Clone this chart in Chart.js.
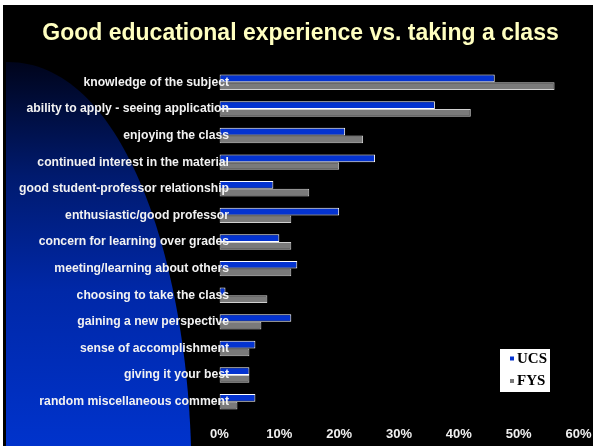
<!DOCTYPE html>
<html>
<head>
<meta charset="utf-8">
<title>Good educational experience vs. taking a class</title>
<script src="https://cdn.jsdelivr.net/npm/chart.js@4.4.1/dist/chart.umd.min.js"></script>
<style>
    html, body { margin: 0; padding: 0; background: #fff; overflow: hidden; }
    canvas { display: block; }
</style>
</head>
<body>
<canvas id="experienceChart" width="593" height="446"></canvas>
<script>
// Survey answers, percent of responses per group
let categories = [
    'knowledge of the subject',
    'ability to apply - seeing application',
    'enjoying the class',
    'continued interest in the material',
    'good student-professor relationship',
    'enthusiastic/good professor',
    'concern for learning over grades',
    'meeting/learning about others',
    'choosing to take the class',
    'gaining a new perspective',
    'sense of accomplishment',
    'giving it your best',
    'random miscellaneous comment'
]
let ucsValues = [46, 36, 21, 26, 9, 20, 10, 13, 1, 12, 6, 5, 6]
let fysValues = [56, 42, 24, 20, 15, 12, 12, 12, 8, 7, 5, 5, 3]
let xTicks = [0, 10, 20, 30, 40, 50, 60]

let labelFont = 'Liberation Sans, Arial, sans-serif'
let catFontSize = 12.2

// Category labels are mirrored (so they are not clipped) and right aligned
// a little past the zero line; padding is measured from the widest label
let measureCtx = document.createElement('canvas').getContext('2d')
measureCtx.font = 'bold ' + catFontSize + 'px ' + labelFont
let widestLabel = Math.max.apply(null, categories.map(function(c) {
    return measureCtx.measureText(c).width
}))
let labelOverhang = 9.5

// Slide background: black panel with the blue swoosh on the left
let slideBackground = {
    id: 'slideBackground',
    beforeDraw: function(chart) {
        let ctx = chart.ctx
        let w = chart.width
        let h = chart.height
        ctx.save()
        ctx.fillStyle = '#ffffff'
        ctx.fillRect(0, 0, w, h)
        ctx.fillStyle = '#000000'
        ctx.fillRect(3, 5, w - 3, h - 5)

        let grad = ctx.createLinearGradient(0, 60, 0, h)
        grad.addColorStop(0, '#00041a')
        grad.addColorStop(0.3, '#001a6e')
        grad.addColorStop(0.6, '#0028a8')
        grad.addColorStop(1, '#0033cc')
        ctx.fillStyle = grad
        ctx.beginPath()
        ctx.moveTo(6, 62)
        ctx.bezierCurveTo(120, 60, 185, 250, 191, h)
        ctx.lineTo(6, h)
        ctx.closePath()
        ctx.fill()
        ctx.restore()
    }
}

// White legend box in the lower right of the plot
let boxLegend = {
    id: 'boxLegend',
    afterDraw: function(chart) {
        let ctx = chart.ctx
        let x = 500
        let y = 349
        ctx.save()
        ctx.fillStyle = '#ffffff'
        ctx.fillRect(x, y, 50, 43)
        ctx.font = 'bold 15px Liberation Serif, Times New Roman, serif'
        ctx.textBaseline = 'middle'
        chart.data.datasets.forEach(function(ds, i) {
            let cy = y + 9.5 + i * 22.5
            ctx.fillStyle = ds.backgroundColor
            ctx.fillRect(x + 10, cy - 2, 4, 4)
            ctx.fillStyle = '#000000'
            ctx.fillText(ds.label, x + 17, cy + 0.5)
        })
        ctx.restore()
    }
}

let ctx = document.getElementById('experienceChart')
let experienceChart = new Chart(ctx, {
    type: 'bar',
    data: {
        labels: categories,
        datasets: [{
            label: 'UCS',
            data: ucsValues,
            backgroundColor: '#0433d0',
            borderColor: '#ffffff',
            borderWidth: 1,
            borderSkipped: false,
            categoryPercentage: 0.58,
            barPercentage: 1
        }, {
            label: 'FYS',
            data: fysValues,
            backgroundColor: '#7a7a7a',
            borderColor: '#d0d0d0',
            borderWidth: 1,
            borderSkipped: false,
            categoryPercentage: 0.58,
            barPercentage: 1
        }]
    },
    options: {
        indexAxis: 'y',
        responsive: false,
        animation: false,
        layout: {
            padding: {left: 8, right: 0, top: 0, bottom: 0}
        },
        plugins: {
            legend: {display: false},
            tooltip: {enabled: false},
            title: {
                display: true,
                text: 'Good educational experience vs. taking a class',
                color: '#ffffc0',
                font: {family: labelFont, size: 23, weight: 'bold', lineHeight: 1.2},
                padding: {top: 20, bottom: 21.4}
            }
        },
        scales: {
            x: {
                min: 0,
                max: 60,
                afterBuildTicks: function(scale) {
                    scale.ticks = xTicks.map(function(v) { return {value: v} })
                },
                afterFit: function(scale) {
                    scale.height = 31
                    scale.paddingLeft = 0
                    scale.paddingRight = 14.5
                },
                grid: {display: false, drawTicks: false},
                border: {display: false},
                ticks: {
                    color: '#f0f0f0',
                    padding: 11.2,
                    maxRotation: 0,
                    font: {family: labelFont, size: 13, weight: 'bold'},
                    callback: function(v) { return v + '%' }
                }
            },
            y: {
                afterFit: function(scale) { scale.width = 211.5 },
                grid: {display: false, drawTicks: false},
                border: {display: false},
                ticks: {
                    z: 1, // labels sit on top of the bars
                    color: '#f2f2f2',
                    mirror: true,
                    crossAlign: 'far',
                    padding: labelOverhang - widestLabel,
                    autoSkip: false,
                    font: {family: labelFont, size: catFontSize, weight: 'bold'}
                }
            }
        }
    },
    plugins: [slideBackground, boxLegend]
})
</script>
</body>
</html>
